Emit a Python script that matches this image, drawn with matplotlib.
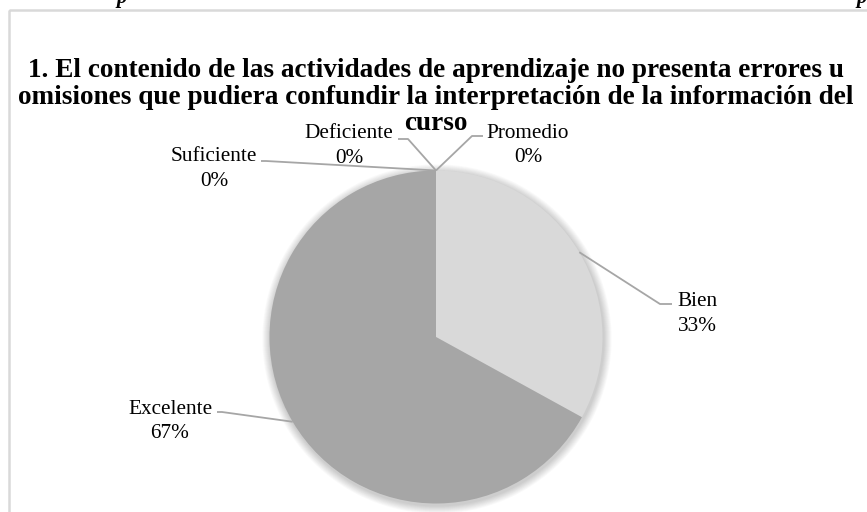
import matplotlib
matplotlib.use("Agg")
import matplotlib.pyplot as plt
from matplotlib.patches import Circle, Rectangle
import numpy as np

# ---- data ----
categories = ["Deficiente", "Suficiente", "Promedio", "Bien", "Excelente"]
values = [0, 0, 0, 33, 67]
pct_labels = ["0%", "0%", "0%", "33%", "67%"]
colors = ["#7f7f7f", "#bfbfbf", "#8c8c8c", "#d9d9d9", "#a6a6a6"]
title = ("1. El contenido de las actividades de aprendizaje no presenta errores u\n"
         "omisiones que pudiera confundir la interpretación de la información del\n"
         "curso")

W, H = 867, 512
plt.rcParams['font.family'] = ['Liberation Serif', 'DejaVu Serif']

fig = plt.figure(figsize=(W / 100, H / 100), dpi=100)
ax = fig.add_axes([0, 0, 1, 1])
ax.set_xlim(0, W)
ax.set_ylim(H, 0)
ax.set_aspect('equal')
ax.axis('off')

# chart frame (extends past right and bottom)
ax.add_patch(Rectangle((8.5, 9.5), 900, 600, fill=False, edgecolor="#d9d9d9", lw=1.8))

# cut-off fragments of text above the chart
for xp in (122, 862):
    ax.text(xp, 3, "p", fontsize=15, style='italic', fontweight='bold',
            ha='center', va='baseline', color='black', clip_on=True)

cx, cy, r = 436, 337, 166.5

# soft shadow
for i in range(10):
    ax.add_patch(Circle((cx + 1, cy + 2), r + 1 + i * 0.8, color='black',
                        alpha=0.018, lw=0, zorder=1))

# y is inverted, so counterclock=True draws clockwise on screen
wedges, _ = ax.pie(values, colors=colors, startangle=-90, counterclock=True,
                   center=(cx, cy), radius=r, frame=True,
                   wedgeprops=dict(linewidth=0, zorder=2))
ax.set_xlim(0, W)
ax.set_ylim(H, 0)
ax.axis('off')

ax.text(W / 2 + 2, 97, title, fontsize=19.6, fontweight='bold', ha='center',
        va='center', linespacing=1.06, zorder=5)

# label positions (block centre) and leader-line elbows
label_pos = {
    "Deficiente": (349, 146),
    "Suficiente": (214, 169),
    "Promedio": (528, 145.5),
    "Bien": (697, 314),
    "Excelente": (170, 421.5),
}
leader = {
    "Deficiente": [(398, 139), (408, 139)],
    "Suficiente": [(261, 161), (266, 161)],
    "Promedio": [(483, 136), (472, 136)],
    "Bien": [(672, 304), (660, 304)],
    "Excelente": [(217, 412), (222, 412)],
}

for w, cat, pct in zip(wedges, categories, pct_labels):
    ang = np.deg2rad((w.theta1 + w.theta2) / 2)
    if abs(w.theta2 - w.theta1) < 1e-6:
        px, py = cx, cy - r
    else:
        px, py = cx + r * np.cos(ang), cy + r * np.sin(ang)
    pts = leader[cat] + [(px, py)]
    xs, ys = zip(*pts)
    ax.plot(xs, ys, color="#a6a6a6", lw=1.3, zorder=3, solid_capstyle='butt')
    lx, ly = label_pos[cat]
    ax.text(lx, ly, f"{cat}\n{pct}", fontsize=15.3, ha='center', va='center',
            multialignment='center', linespacing=1.4, zorder=5)

fig.savefig("out.png", dpi=100)
